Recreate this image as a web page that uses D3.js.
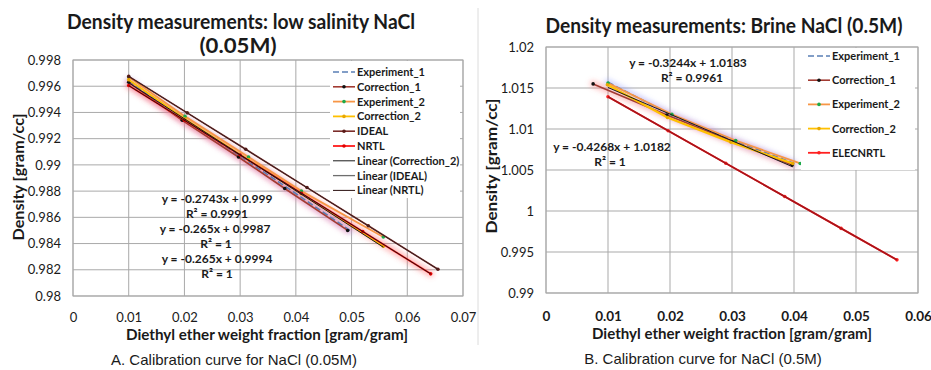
<!DOCTYPE html>
<html>
<head>
<meta charset="utf-8">
<script src="https://cdnjs.cloudflare.com/ajax/libs/d3/7.8.5/d3.min.js"></script>
<style>
  body { margin: 0; background: #fff; }
  svg { display: block; }
  text { font-family: Lato, "Open Sans", sans-serif; fill: #1a1a1a; }
</style>
</head>
<body>
<svg id="chart" width="931" height="370"></svg>
<script>
// ---------- panel A : low salinity NaCl (0.05M) ----------
var a_xTicks = [0, 0.01, 0.02, 0.03, 0.04, 0.05, 0.06, 0.07];
var a_xLabels = ["0", "0.01", "0.02", "0.03", "0.04", "0.05", "0.06", "0.07"];
var a_yTicks = [0.98, 0.982, 0.984, 0.986, 0.988, 0.99, 0.992, 0.994, 0.996, 0.998];
var a_yLabels = ["0.98", "0.982", "0.984", "0.986", "0.988", "0.99", "0.992", "0.994", "0.996", "0.998"];

var a_exp1_x = [0.0100, 0.0198, 0.0299, 0.0383, 0.0497];
var a_exp1_y = [0.9964, 0.9935, 0.9907, 0.9883, 0.9850];
var a_corr1_x = [0.0100, 0.0196, 0.0297, 0.0380, 0.0493];
var a_corr1_y = [0.9963, 0.9934, 0.9906, 0.9882, 0.9850];
var a_exp2_x = [0.0100, 0.0201, 0.0315, 0.0410, 0.0557];
var a_exp2_y = [0.9967, 0.9937, 0.9906, 0.9880, 0.9845];
var a_corr2_x = [0.0100, 0.0201, 0.0315, 0.0410, 0.0557];
var a_corr2_y = [0.9965, 0.9935, 0.9904, 0.9878, 0.9838];
var a_ideal_x = [0.0100, 0.0205, 0.0310, 0.0420, 0.0530, 0.0655];
var a_ideal_y = [0.99675, 0.99397, 0.99119, 0.98827, 0.98536, 0.98204];
var a_nrtl_x = [0.0100, 0.0200, 0.0300, 0.0410, 0.0520, 0.0642];
var a_nrtl_y = [0.99605, 0.99340, 0.99075, 0.98784, 0.98492, 0.98169];
// trend lines (end points)
var a_fitCorr2_x = [0.0100, 0.0557];
var a_fitCorr2_y = [0.99626, 0.98372];
var a_fitIdeal_x = [0.0100, 0.0655];
var a_fitIdeal_y = [0.99675, 0.98204];
var a_fitNrtl_x = [0.0100, 0.0642];
var a_fitNrtl_y = [0.99605, 0.98169];
var a_legend = ["Experiment_1", "Correction_1", "Experiment_2", "Correction_2", "IDEAL", "NRTL",
                "Linear (Correction_2)", "Linear (IDEAL)", "Linear (NRTL)"];
var a_equations = ["y = -0.2743x + 0.999", "R² = 0.9991", "y = -0.265x + 0.9987", "R² = 1",
                   "y = -0.265x + 0.9994", "R² = 1"];

// ---------- panel B : brine NaCl (0.5M) ----------
var b_xTicks = [0, 0.01, 0.02, 0.03, 0.04, 0.05, 0.06];
var b_xLabels = ["0", "0.01", "0.02", "0.03", "0.04", "0.05", "0.06"];
var b_yTicks = [0.99, 0.995, 1, 1.005, 1.01, 1.015, 1.02];
var b_yLabels = ["0.99", "0.995", "1", "1.005", "1.01", "1.015", "1.02"];

var b_exp1_x = [0.0100, 0.0200, 0.0300, 0.0400];
var b_exp1_y = [1.0157, 1.0118, 1.0087, 1.0058];
var b_corr1_x = [0.0076, 0.0195, 0.0300, 0.0397];
var b_corr1_y = [1.0155, 1.0117, 1.0085, 1.0056];
var b_exp2_x = [0.0100, 0.0203, 0.0306, 0.0410];
var b_exp2_y = [1.0156, 1.0118, 1.0086, 1.0058];
var b_corr2_x = [0.0099, 0.0196, 0.0298, 0.0398];
var b_corr2_y = [1.0154, 1.0114, 1.0084, 1.0058];
var b_elec_x = [0.0100, 0.0197, 0.0290, 0.0385, 0.0476, 0.0566];
var b_elec_y = [1.01393, 1.00979, 1.00582, 1.00177, 0.99788, 0.99404];
var b_fitCorr2_x = [0.0100, 0.0398];
var b_fitCorr2_y = [1.01506, 1.00539];
var b_fitElec_x = [0.0100, 0.0566];
var b_fitElec_y = [1.01393, 0.99404];
var b_legend = ["Experiment_1", "Correction_1", "Experiment_2", "Correction_2", "ELECNRTL"];
var b_equations = ["y = -0.3244x + 1.0183", "R² = 0.9961", "y = -0.4268x + 1.0182", "R² = 1"];

var svg = d3.select("#chart");
var defs = svg.append("defs");
defs.append("filter").attr("id", "glow")
    .attr("x", "-20%").attr("y", "-20%").attr("width", "140%").attr("height", "140%")
  .append("feGaussianBlur").attr("stdDeviation", 2.4);

function pts(xs, ys) {
  return xs.map(function(d, i) { return [d, ys[i]]; });
}

function drawPanel(p) {
  var g = svg.append("g");
  var x = d3.scaleLinear().domain(p.xDomain).range([p.left, p.right]);
  var y = d3.scaleLinear().domain(p.yDomain).range([p.bottom, p.top]);

  // gridlines
  g.append("g").selectAll("line.h").data(p.yTicks).enter().append("line")
    .attr("x1", p.left).attr("x2", p.right)
    .attr("y1", function(d) { return y(d); }).attr("y2", function(d) { return y(d); })
    .attr("stroke", "#a9a9a9").attr("stroke-width", 1);
  g.append("g").selectAll("line.v").data(p.xTicks).enter().append("line")
    .attr("y1", p.top).attr("y2", p.bottom)
    .attr("x1", function(d) { return x(d); }).attr("x2", function(d) { return x(d); })
    .attr("stroke", "#a9a9a9").attr("stroke-width", 1);
  g.append("rect").attr("x", p.left).attr("y", p.top)
    .attr("width", p.right - p.left).attr("height", p.bottom - p.top)
    .attr("fill", "none").attr("stroke", "#a9a9a9");

  // axes (labels only, lines are the grid)
  var xAxis = d3.axisBottom(x).tickValues(p.xTicks)
    .tickFormat(function(d, i) { return p.xLabels[i]; }).tickSize(0).tickPadding(p.xPad);
  var ax = g.append("g").attr("transform", "translate(0," + p.bottom + ")").call(xAxis);
  ax.select(".domain").remove();
  ax.selectAll("text").attr("font-size", p.xTickSize).attr("font-weight", p.xTickWeight)
    .attr("font-family", "Lato, sans-serif").attr("fill", "#1a1a1a");
  var yAxis = d3.axisLeft(y).tickValues(p.yTicks)
    .tickFormat(function(d, i) { return p.yLabels[i]; }).tickSize(0).tickPadding(12);
  var ay = g.append("g").attr("transform", "translate(" + p.left + ",0)").call(yAxis);
  ay.select(".domain").remove();
  ay.selectAll("text").attr("font-size", 13).attr("font-family", "Lato, sans-serif").attr("fill", "#1a1a1a");

  var line = d3.line().x(function(d) { return x(d[0]); }).y(function(d) { return y(d[1]); });

  // soft glow under some series
  p.series.forEach(function(s) {
    if (!s.glow) return;
    g.append("path").datum(pts(s.x, s.y)).attr("d", line)
      .attr("fill", "none").attr("stroke", s.glow).attr("stroke-width", 7)
      .attr("stroke-opacity", 0.4).attr("stroke-linecap", "round").attr("filter", "url(#glow)");
  });

  p.series.forEach(function(s) {
    g.append("path").datum(pts(s.x, s.y)).attr("d", line)
      .attr("fill", "none").attr("stroke", s.color).attr("stroke-width", s.width)
      .attr("stroke-dasharray", s.dash || null);
    if (s.marker) {
      g.append("g").selectAll("circle").data(pts(s.x, s.y)).enter().append("circle")
        .attr("cx", function(d) { return x(d[0]); }).attr("cy", function(d) { return y(d[1]); })
        .attr("r", 1.8).attr("fill", s.marker);
    }
  });

  p.trends.forEach(function(t) {
    g.append("path").datum(pts(t.x, t.y)).attr("d", line)
      .attr("fill", "none").attr("stroke", t.color).attr("stroke-width", t.width);
  });

  // legend
  var L = p.legend;
  g.append("rect").attr("x", L.x).attr("y", L.y).attr("width", L.w).attr("height", L.h).attr("fill", "#fff");
  L.items.forEach(function(it, i) {
    var ly = L.first + i * L.step;
    g.append("line").attr("x1", L.lx).attr("x2", L.lx + 22).attr("y1", ly).attr("y2", ly)
      .attr("stroke", it.color).attr("stroke-width", it.width).attr("stroke-dasharray", it.dash || null);
    if (it.marker) {
      g.append("circle").attr("cx", L.lx + 11).attr("cy", ly).attr("r", 1.8).attr("fill", it.marker);
    }
    g.append("text").attr("x", L.lx + 24).attr("y", ly + 4).attr("font-size", 11)
      .attr("font-weight", 700).text(it.name);
  });

  // trend equations
  p.equations.forEach(function(e) {
    g.append("text").attr("x", e.x).attr("y", e.y).attr("text-anchor", "middle")
      .attr("font-size", 12).attr("font-weight", 700).text(e.text);
  });

  // titles
  p.title.forEach(function(t) {
    g.append("text").attr("x", t.x).attr("y", t.y).attr("text-anchor", "middle")
      .attr("font-size", 20).attr("font-weight", 700)
      .attr("textLength", t.len).attr("lengthAdjust", "spacingAndGlyphs").text(t.text);
  });
  g.append("text").attr("transform", "translate(" + p.yTitle.x + "," + p.yTitle.y + ") rotate(-90)")
    .attr("text-anchor", "middle").attr("font-size", 15).attr("font-weight", 700)
    .attr("textLength", p.yTitle.len).attr("lengthAdjust", "spacingAndGlyphs").text("Density  [gram/cc]");
  g.append("text").attr("x", p.xTitle.x).attr("y", p.xTitle.y).attr("text-anchor", "middle")
    .attr("font-size", 15).attr("font-weight", 700)
    .attr("textLength", p.xTitle.len).attr("lengthAdjust", "spacingAndGlyphs")
    .text("Diethyl ether weight fraction [gram/gram]");
  g.append("text").attr("x", p.caption.x).attr("y", p.caption.y).attr("text-anchor", "middle")
    .attr("font-size", 15).style("font-family", "'Liberation Sans', Arial, sans-serif")
    .attr("fill", "#222").text(p.caption.text);
}

var cExp1 = "#5a7fb5", cCorr1 = "#a23b32", cExp2 = "#f79646", cCorr2 = "#ffc000",
    cIdeal = "#7b2d2a", cNrtl = "#ff1a1a", cElec = "#a8141a";

drawPanel({
  left: 73, right: 463, top: 60, bottom: 296,
  xDomain: [0, 0.07], yDomain: [0.98, 0.998],
  xTicks: a_xTicks, xLabels: a_xLabels, yTicks: a_yTicks, yLabels: a_yLabels,
  xPad: 17, xTickSize: 13, xTickWeight: 400,
  series: [
    { x: a_exp1_x, y: a_exp1_y, color: cExp1, width: 1.6, dash: "6,3", glow: "#8fa6ff" },
    { x: a_corr1_x, y: a_corr1_y, color: cCorr1, width: 1.6, marker: "#111", glow: "#ff7b9a" },
    { x: a_exp2_x, y: a_exp2_y, color: cExp2, width: 1.8, marker: "#1daa4a" },
    { x: a_corr2_x, y: a_corr2_y, color: cCorr2, width: 1.8, marker: "#e8a800" },
    { x: a_ideal_x, y: a_ideal_y, color: cIdeal, width: 1.6, marker: "#5a1a18" },
    { x: a_nrtl_x, y: a_nrtl_y, color: cNrtl, width: 1.8, marker: "#e00000", glow: "#ff6060" }
  ],
  trends: [
    { x: a_fitCorr2_x, y: a_fitCorr2_y, color: "#1a1a1a", width: 1 },
    { x: a_fitIdeal_x, y: a_fitIdeal_y, color: "#3a2020", width: 1 },
    { x: a_fitNrtl_x, y: a_fitNrtl_y, color: "#2a1010", width: 1 }
  ],
  legend: {
    x: 330, y: 61, w: 130, h: 137, lx: 333, first: 72, step: 14.8,
    items: [
      { name: a_legend[0], color: cExp1, width: 1.6, dash: "6,3" },
      { name: a_legend[1], color: cCorr1, width: 1.6, marker: "#111" },
      { name: a_legend[2], color: cExp2, width: 1.8, marker: "#1daa4a" },
      { name: a_legend[3], color: cCorr2, width: 1.8, marker: "#e8a800" },
      { name: a_legend[4], color: cIdeal, width: 1.6, marker: "#5a1a18" },
      { name: a_legend[5], color: cNrtl, width: 1.8, marker: "#e00000" },
      { name: a_legend[6], color: "#1a1a1a", width: 1 },
      { name: a_legend[7], color: "#6e6e6e", width: 1.3 },
      { name: a_legend[8], color: "#2a1010", width: 1 }
    ]
  },
  equations: [
    { text: a_equations[0], x: 217, y: 203 },
    { text: a_equations[1], x: 217, y: 218 },
    { text: a_equations[2], x: 215, y: 233 },
    { text: a_equations[3], x: 216, y: 248 },
    { text: a_equations[4], x: 217, y: 263 },
    { text: a_equations[5], x: 217, y: 278 }
  ],
  title: [
    { text: "Density measurements:  low salinity NaCl", x: 241, y: 29, len: 348 },
    { text: "(0.05M)", x: 238, y: 53, len: 77 }
  ],
  yTitle: { x: 24, y: 177, len: 127 },
  xTitle: { x: 267, y: 340, len: 282 },
  caption: { text: "A. Calibration curve for NaCl (0.05M)", x: 234, y: 365 }
});

// thin separator of the second picture
svg.append("line").attr("x1", 478).attr("x2", 478).attr("y1", 8).attr("y2", 345)
  .attr("stroke", "#dcdcdc").attr("stroke-width", 1);

drawPanel({
  left: 546, right: 918, top: 47, bottom: 293,
  xDomain: [0, 0.06], yDomain: [0.99, 1.02],
  xTicks: b_xTicks, xLabels: b_xLabels, yTicks: b_yTicks, yLabels: b_yLabels,
  xPad: 18, xTickSize: 13.5, xTickWeight: 700,
  series: [
    { x: b_exp1_x, y: b_exp1_y, color: cExp1, width: 1.6, dash: "6,3", glow: "#8f9cff" },
    { x: b_corr1_x, y: b_corr1_y, color: cCorr1, width: 1.6, marker: "#111", glow: "#ff7070" },
    { x: b_exp2_x, y: b_exp2_y, color: cExp2, width: 1.8, marker: "#1daa4a" },
    { x: b_corr2_x, y: b_corr2_y, color: cCorr2, width: 2.2, marker: "#e8a800" },
    { x: b_elec_x, y: b_elec_y, color: "#ff2020", width: 1.8, marker: "#ff2020" }
  ],
  trends: [
    { x: b_fitCorr2_x, y: b_fitCorr2_y, color: "#1a1a1a", width: 1 },
    { x: b_fitElec_x, y: b_fitElec_y, color: cElec, width: 1.6 }
  ],
  legend: {
    x: 801, y: 48, w: 114, h: 122, lx: 808, first: 56, step: 24.2,
    items: [
      { name: b_legend[0], color: cExp1, width: 1.6, dash: "6,3" },
      { name: b_legend[1], color: cCorr1, width: 1.6, marker: "#111" },
      { name: b_legend[2], color: cExp2, width: 1.8, marker: "#1daa4a" },
      { name: b_legend[3], color: cCorr2, width: 1.8, marker: "#e8a800" },
      { name: b_legend[4], color: "#ff2020", width: 1.8, marker: "#ff2020" }
    ]
  },
  equations: [
    { text: b_equations[0], x: 688, y: 67 },
    { text: b_equations[1], x: 692, y: 82 },
    { text: b_equations[2], x: 612, y: 151 },
    { text: b_equations[3], x: 610, y: 166 }
  ],
  title: [
    { text: "Density measurements:  Brine NaCl (0.5M)", x: 724, y: 33, len: 357 }
  ],
  yTitle: { x: 497, y: 166, len: 135 },
  xTitle: { x: 732, y: 339, len: 280 },
  caption: { text: "B. Calibration curve for NaCl (0.5M)", x: 703, y: 364 }
});
</script>
</body>
</html>
